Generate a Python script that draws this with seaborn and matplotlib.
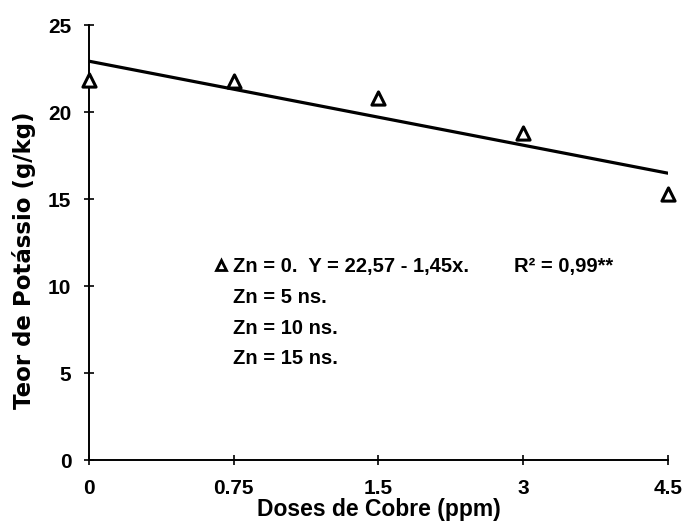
import numpy as np
import pandas as pd
import matplotlib
matplotlib.use("Agg")
import matplotlib.pyplot as plt
from matplotlib.lines import Line2D
import seaborn as sns

# Doses de cobre (ppm) shown as evenly spaced categories
doses = ["0", "0.75", "1.5", "3", "4.5"]
# Teor de potássio (g/kg) for Zn = 0
teor_k = [21.85, 21.8, 20.8, 18.8, 15.3]
y_ticks = [0, 5, 10, 15, 20, 25]
legend_lines = [
    "Zn = 0.  Y = 22,57 - 1,45x.        R² = 0,99**",
    "Zn = 5 ns.",
    "Zn = 10 ns.",
    "Zn = 15 ns.",
]


def main():
    sns.set_style("ticks")
    plt.rcParams["font.family"] = ["Liberation Sans", "DejaVu Sans"]
    plt.rcParams["text.color"] = "black"
    plt.rcParams["axes.labelcolor"] = "black"

    df = pd.DataFrame({"pos": np.arange(len(doses)), "k": teor_k})

    fig = plt.figure(figsize=(6.83, 5.24), dpi=100)
    ax = fig.add_axes([0.130, 0.122, 0.848, 0.830])

    sns.regplot(data=df, x="pos", y="k", ci=None, scatter=False, truncate=True,
                line_kws={"color": "black", "lw": 2.3}, ax=ax)
    sns.scatterplot(data=df, x="pos", y="k", marker="^", s=90, color="white",
                    edgecolor="black", linewidth=2.2, zorder=5, clip_on=False, ax=ax)

    ax.set_xlim(0, len(doses) - 1)
    ax.set_ylim(0, 25)
    ax.set_xticks(range(len(doses)))
    ax.set_xticklabels(doses)
    ax.set_yticks(y_ticks)
    sns.despine(ax=ax)
    for s in ["left", "bottom"]:
        ax.spines[s].set_linewidth(1.4)
        ax.spines[s].set_color("black")
    ax.tick_params(direction="inout", length=7, width=1.2, colors="black",
                   labelsize=15)
    ax.tick_params(axis="x", pad=10)
    ax.tick_params(axis="y", pad=9)
    for lab in ax.get_xticklabels() + ax.get_yticklabels():
        lab.set_fontweight("bold")

    ax.set_xlabel("Doses de Cobre (ppm)", fontsize=16.5, fontweight="bold", labelpad=0)
    ax.set_ylabel("Teor de Potássio (g/kg)", fontsize=16.5, fontweight="bold",
                  family="DejaVu Sans")
    ax.yaxis.set_label_coords(-0.092, 0.46)

    tri = Line2D([], [], marker="^", color="black", markerfacecolor="white",
                 markeredgewidth=2, markersize=7, linestyle="none")
    blank = Line2D([], [], linestyle="none")
    ax.legend(handles=[tri, blank, blank, blank], labels=legend_lines,
              frameon=False, loc="upper left", bbox_to_anchor=(0.205, 0.485),
              prop={"size": 14.5, "weight": "bold"}, handlelength=0.5,
              handletextpad=0.35, labelspacing=0.58, borderaxespad=0)

    fig.savefig("out.png", dpi=100)


if __name__ == "__main__":
    main()
